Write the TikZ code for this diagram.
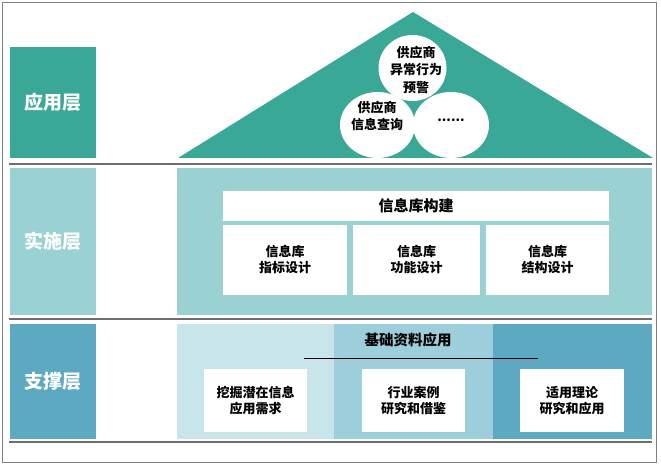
\documentclass[tikz,border=0pt]{standalone}
\usepackage{fontspec}
\usetikzlibrary{shapes.geometric}
\setmainfont{Noto Sans CJK SC}
\definecolor{tealA}{RGB}{58,168,150}
\definecolor{tealB}{RGB}{154,210,212}
\definecolor{blueC}{RGB}{94,169,194}
\definecolor{bandL}{RGB}{200,229,236}
\definecolor{bandM}{RGB}{157,206,219}
\definecolor{rulegray}{RGB}{110,110,110}
\begin{document}
\begin{tikzpicture}[x=1pt,y=-1pt,
  layer/.style={inner sep=0pt, text=white, font=\fontsize{19}{22}\selectfont\bfseries},
  wbox/.style={fill=white, inner sep=0pt, align=center, font=\fontsize{13}{16}\selectfont\bfseries},
  ctext/.style={align=center, inner sep=0pt, font=\fontsize{13}{17.5}\selectfont\bfseries},
  sep/.style={rulegray, line width=1.6pt},
  blob/.style={ellipse, fill=white, inner sep=0pt}
]
\useasboundingbox (0,0) rectangle (661,465);
\fill[white] (0,0) rectangle (661,465);
\draw[gray, line width=0.9pt] (2,2) rectangle (656,462);

% layer labels
\node[layer, fill=tealA, minimum width=86pt, minimum height=111pt] (app) at (52.5,102.5) {应用层};
\node[layer, fill=tealB, minimum width=86pt, minimum height=147pt] (impl) at (52.5,241.5) {实施层};
\node[layer, fill=blueC, minimum width=86pt, minimum height=115pt] (supp) at (52.5,381.5) {支撑层};

% separators
\coordinate (s1a) at (9,164); \coordinate (s1b) at (652,164);
\coordinate (s2a) at (9,319); \coordinate (s2b) at (652,319);
\coordinate (s3a) at (9,442); \coordinate (s3b) at (652,442);
\draw[sep] (s1a) -- (s1b);
\draw[sep] (s2a) -- (s2b);
\draw[sep] (s3a) -- (s3b);

% application layer: triangle and circles
\coordinate (apex) at (413,12);
\coordinate (bl) at (178,158);
\coordinate (br) at (653,158);
\fill[tealA] (bl) -- (apex) -- (br) -- cycle;
\node[blob, minimum width=68pt, minimum height=66pt] (c1) at (412.5,68) {};
\node[blob, minimum width=75pt, minimum height=66pt] (c2) at (377.5,125) {};
\node[blob, minimum width=76pt, minimum height=66pt] (c3) at (451,125) {};
\node[ctext] (t1) at (416,70) {供应商\\异常行为\\预警};
\node[ctext] (t2) at (377,116) {供应商\\信息查询};
\node[ctext] (t3) at (451,120) {......};

% implementation layer
\node[fill=tealB, inner sep=0pt, minimum width=475pt, minimum height=147pt] (implarea) at (414.5,241.5) {};
\node[wbox, font=\fontsize{15}{18}\selectfont\bfseries, minimum width=386pt, minimum height=30pt] (build) at (416,206) {信息库构建};
\node[wbox, minimum width=124pt, minimum height=70pt] (d1) at (285,260) {信息库\\指标设计};
\node[wbox, minimum width=127pt, minimum height=70pt] (d2) at (416.5,260) {信息库\\功能设计};
\node[wbox, minimum width=123pt, minimum height=70pt] (d3) at (547.5,260) {信息库\\结构设计};

% support layer
\node[fill=bandL, inner sep=0pt, minimum width=157pt, minimum height=115pt] (bandl) at (255.5,381.5) {};
\node[fill=bandM, inner sep=0pt, minimum width=159pt, minimum height=115pt] (bandm) at (413.5,381.5) {};
\node[fill=blueC, inner sep=0pt, minimum width=159pt, minimum height=115pt] (bandr) at (572.5,381.5) {};
\node[font=\fontsize{14.5}{17}\selectfont\bfseries, inner sep=0pt] (basic) at (408,340) {基础资料应用};
\coordinate (ula) at (304,358); \coordinate (ulb) at (538,358);
\draw[black, line width=0.8pt] (ula) -- (ulb);
\node[wbox, minimum width=103pt, minimum height=63pt] (e1) at (255.5,400.5) {挖掘潜在信息\\应用需求};
\node[wbox, minimum width=103pt, minimum height=63pt] (e2) at (413.5,400.5) {行业案例\\研究和借鉴};
\node[wbox, minimum width=104pt, minimum height=63pt] (e3) at (572,400.5) {适用理论\\研究和应用};
\end{tikzpicture}
\end{document}
